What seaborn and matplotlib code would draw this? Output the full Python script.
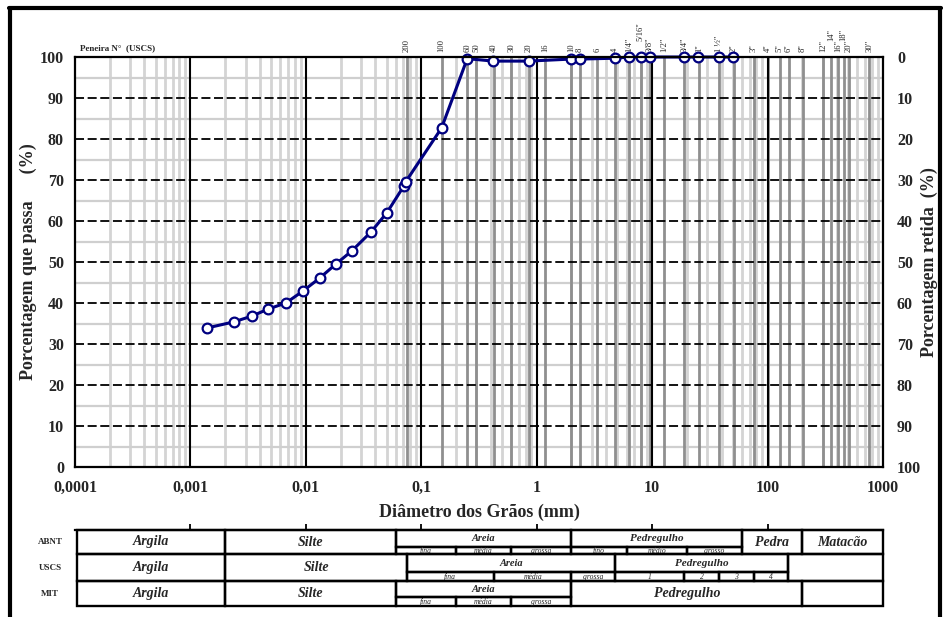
import numpy as np
import pandas as pd
import matplotlib
matplotlib.use("Agg")
import matplotlib.pyplot as plt
from matplotlib.patches import Rectangle
from matplotlib.lines import Line2D
import matplotlib.transforms as mtransforms
import seaborn as sns

# ---- grain size distribution (sieving + sedimentation) ----
diameter_mm = [0.00139, 0.00238, 0.0034, 0.00469, 0.00671, 0.00942, 0.0132, 0.0182,
               0.0250, 0.0366, 0.0503, 0.0705, 0.0734, 0.15, 0.25, 0.42, 0.85,
               2.0, 2.38, 4.75, 6.3, 8.0, 9.5, 19.0, 25.0, 38.0, 50.0]
passing_pct = [33.9, 35.4, 36.8, 38.5, 40.0, 42.9, 46.1, 49.5,
               52.7, 57.3, 62.0, 68.5, 69.6, 82.7, 99.6, 99.0, 99.0,
               99.5, 99.5, 99.7, 100.0, 100.0, 100.0, 100.0, 100.0, 100.0, 100.0]

# ---- sieve openings (mm) and their designations ----
sieve_mm = [0.075, 0.15, 0.25, 0.3, 0.425, 0.6, 0.85, 1.18, 2.0, 2.36, 3.35, 4.75,
            6.35, 7.94, 9.5, 12.7, 19.05, 25.4, 38.1, 50.8, 76.2, 101.6, 127.0,
            152.4, 203.2, 304.8, 355.6, 406.4, 457.2, 508.0, 762.0]
sieve_labels = ['200', '100', '60', '50', '40', '30', '20', '16', '10', '8', '6', '4',
                '1/4"', '5/16"', '3/8"', '1/2"', '3/4"', '1"', '1 ½"', '2"', '3"', '4"',
                '5"', '6"', '8"', '12"', '14"', '16"', '18"', '20"', '30"']

x_ticks = [0.0001, 0.001, 0.01, 0.1, 1, 10, 100, 1000]
x_tick_labels = ['0,0001', '0,001', '0,01', '0,1', '1', '10', '100', '1000']
y_ticks = list(range(0, 101, 10))

# ---- classification scales: (start, end, label, sub-divisions) ----
abnt_cells = [
    (1e-4, 0.002, 'Argila', None),
    (0.002, 0.06, 'Silte', None),
    (0.06, 2.0, 'Areia', [(0.06, 0.2, 'fina'), (0.2, 0.6, 'média'), (0.6, 2.0, 'grossa')]),
    (2.0, 60.0, 'Pedregulho', [(2.0, 6.0, 'fino'), (6.0, 20.0, 'médio'), (20.0, 60.0, 'grosso')]),
    (60.0, 200.0, 'Pedra', None),
    (200.0, 1000.0, 'Matacão', None),
]
uscs_cells = [
    (1e-4, 0.002, 'Argila', None),
    (0.002, 0.075, 'Silte', None),
    (0.075, 4.75, 'Areia', [(0.075, 0.425, 'fina'), (0.425, 2.0, 'média'), (2.0, 4.75, 'grossa')]),
    (4.75, 150.0, 'Pedregulho', [(4.75, 19.0, '1'), (19.0, 38.0, '2'), (38.0, 76.0, '3'), (76.0, 150.0, '4')]),
    (150.0, 1000.0, '', None),
]
mit_cells = [
    (1e-4, 0.002, 'Argila', None),
    (0.002, 0.06, 'Silte', None),
    (0.06, 2.0, 'Areia', [(0.06, 0.2, 'fina'), (0.2, 0.6, 'média'), (0.6, 2.0, 'grossa')]),
    (2.0, 200.0, 'Pedregulho', None),
    (200.0, 1000.0, '', None),
]
scale_names = ['ABNT', 'USCS', 'MIT']

sns.set_theme(style="white")
plt.rcParams['font.family'] = ['Liberation Serif', 'DejaVu Serif']

W, H = 944, 617
fig = plt.figure(figsize=(W / 100, H / 100), dpi=100)


def fx(px):
    return px / W


def fy(py):
    return 1 - py / H


NAVY = '#000080'
ax = fig.add_axes([fx(75), fy(467), fx(883) - fx(75), fy(57) - fy(467)])
ax.set_xscale('log')
ax.set_xlim(1e-4, 1e3)
ax.set_ylim(0, 100)

# background grid: minor log lines, minor horizontal lines, sieve lines, decades
for dec in range(-4, 3):
    for m in range(2, 10):
        ax.axvline(m * 10.0 ** dec, color='#d4d4d4', lw=2, zorder=1)
for yv in range(5, 100, 10):
    ax.axhline(yv, color='#cfcfcf', lw=1.6, zorder=1)
for s in sieve_mm:
    ax.axvline(s, color='#8f8f8f', lw=2, zorder=2)
for xv in x_ticks[1:-1]:
    ax.axvline(xv, color='black', lw=1.5, zorder=3)
for yv in range(10, 100, 10):
    ax.axhline(yv, color='black', lw=1.3, ls=(0, (5, 2)), zorder=3)

df = pd.DataFrame({'diametro': diameter_mm, 'passa': passing_pct})
sns.lineplot(data=df, x='diametro', y='passa', ax=ax, sort=False, color=NAVY, lw=2.2,
             marker='o', markersize=7, markerfacecolor='white', markeredgecolor=NAVY,
             markeredgewidth=1.6, zorder=6, clip_on=False)

ax.set_xticks(x_ticks)
ax.set_xticklabels(x_tick_labels, fontsize=11.5, fontweight='bold')
ax.xaxis.set_minor_locator(matplotlib.ticker.NullLocator())
ax.set_yticks(y_ticks)
ax.set_yticklabels([str(v) for v in y_ticks], fontsize=11.5, fontweight='bold')
ax.tick_params(axis='x', length=0, pad=9)
ax.tick_params(axis='y', length=0, pad=8)
ax.set_xlabel('Diâmetro dos Grãos (mm)', fontsize=13, fontweight='bold', labelpad=6)
ax.set_ylabel('Porcentagem que passa      (%)', fontsize=13, fontweight='bold', labelpad=2)
for sp in ax.spines.values():
    sp.set_color('black')
    sp.set_linewidth(1.6)
    sp.set_zorder(7)

ax2 = ax.twinx()
ax2.set_ylim(100, 0)
ax2.set_yticks(y_ticks)
ax2.set_yticklabels([str(v) for v in y_ticks], fontsize=11.5, fontweight='bold')
ax2.tick_params(axis='y', length=0, pad=10)
ax2.set_ylabel('Porcentagem retida  (%)', fontsize=13, fontweight='bold', labelpad=0)
ax2.grid(False)
for sp in ax2.spines.values():
    sp.set_visible(False)

# sieve designations above the plot (a few raised to keep them apart)
raised = {'5/16"', '14"', '18"'}
trans = mtransforms.blended_transform_factory(ax.transData, ax.transAxes)
for s, lbl in zip(sieve_mm, sieve_labels):
    yoff = 1.04 if lbl in raised else 1.012
    ax.text(s, yoff, lbl, transform=trans, rotation=90, ha='center', va='bottom',
            fontsize=6.2)
ax.text(0.00011, 1.012, 'Peneira N°  (USCS)', transform=trans, ha='left', va='bottom',
        fontsize=6.5, fontweight='bold')

# ---- classification table under the x axis ----
axt = fig.add_axes([fx(75), fy(606), fx(883) - fx(75), fy(530) - fy(606)])
axt.set_xscale('log')
axt.set_xlim(1e-4, 1e3)
axt.set_ylim(76, 0)
axt.set_yticks([])
axt.set_xticks(x_ticks[1:-1])
axt.set_xticklabels([])
axt.xaxis.set_minor_locator(matplotlib.ticker.NullLocator())
axt.xaxis.tick_top()
axt.tick_params(axis='x', direction='out', length=4, width=1.3, color='black')
axt.patch.set_alpha(0)
for sp in axt.spines.values():
    sp.set_visible(False)
axt.spines['top'].set_visible(True)
axt.spines['top'].set_linewidth(1.6)
axt.spines['top'].set_color('black')

rows = [(0, 16.5, 24, abnt_cells), (24, 41.5, 51, uscs_cells), (51, 67, 76, mit_cells)]
LW = 1.7


def box(x0, x1, y0, y1):
    axt.add_patch(Rectangle((x0, y0), x1 - x0, y1 - y0, fill=False, ec='black', lw=LW,
                            clip_on=False, zorder=3))


def gmid(a, b):
    return np.sqrt(a * b)


for top, div, bot, cells in rows:
    for x0, x1, name, subs in cells:
        x0d = max(x0, 1.04e-4)
        if subs is None:
            box(x0d, x1, top, bot)
            if name:
                big = name in ('Argila', 'Silte', 'Pedra', 'Matacão') or cells is mit_cells
                axt.text(gmid(x0d, x1), (top + bot) / 2, name, ha='center', va='center',
                         fontsize=10 if big else 9, fontweight='bold', style='italic')
        else:
            box(x0d, x1, top, div)
            fs = 8 if name == 'Pedregulho' else 7.5
            axt.text(gmid(x0d, x1), (top + div) / 2 + 0.5, name, ha='center', va='center',
                     fontsize=fs, fontweight='bold', style='italic')
            for s0, s1, sname in subs:
                box(s0, s1, div, bot)
                axt.text(gmid(s0, s1), (div + bot) / 2 + 0.3, sname, ha='center', va='center',
                         fontsize=5.5, style='italic')

for (top, div, bot, _), nm in zip(rows, scale_names):
    fig.text(fx(50), fy((top + bot) / 2 + 530), nm, ha='center', va='center',
             fontsize=6.5, fontweight='bold')

# outer frame
fig.add_artist(Line2D([fx(9), fx(941)], [fy(8), fy(8)], color='black', lw=3))
fig.add_artist(Line2D([fx(10), fx(10)], [fy(8), 0], color='black', lw=3))
fig.add_artist(Line2D([fx(940), fx(940)], [fy(8), 0], color='black', lw=3))

fig.savefig('out.png', dpi=100)
